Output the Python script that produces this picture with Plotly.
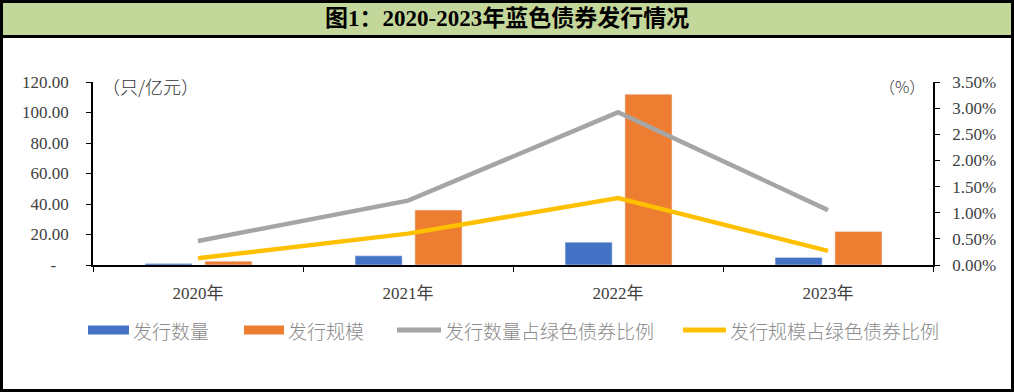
import plotly.graph_objects as go

W, H = 1014, 392

categories = ["2020年", "2021年", "2022年", "2023年"]
issue_count = [1, 6, 15, 5]            # 发行数量 (只)
issue_scale = [2.5, 36, 112, 22]        # 发行规模 (亿元)
count_share = [0.0046, 0.0123, 0.0292, 0.0105]   # 发行数量占绿色债券比例
scale_share = [0.0013, 0.0060, 0.0128, 0.0027]   # 发行规模占绿色债券比例

left_tickvals = [0, 20, 40, 60, 80, 100, 120]
left_ticktext = ["-\u00a0\u00a0\u00a0", "20.00", "40.00", "60.00", "80.00", "100.00", "120.00"]
right_tickvals = [0, 0.005, 0.01, 0.015, 0.02, 0.025, 0.03, 0.035]

names = ["发行数量", "发行规模", "发行数量占绿色债券比例", "发行规模占绿色债券比例"]
colors = ["#4472C4", "#ED7D31", "#A5A5A5", "#FFC000"]

SERIF = "Liberation Serif, Times New Roman, Noto Sans CJK SC, serif"
CJK = "Noto Sans CJK SC, sans-serif"


def px(x):
    return x / W


def py(y):
    return 1 - y / H


fig = go.Figure()
fig.add_trace(go.Bar(x=categories, y=issue_count, name=names[0], marker_color=colors[0],
                     width=0.224, offset=-0.252, yaxis="y", showlegend=False))
fig.add_trace(go.Bar(x=categories, y=issue_scale, name=names[1], marker_color=colors[1],
                     width=0.224, offset=0.033, yaxis="y", showlegend=False))
fig.add_trace(go.Scatter(x=categories, y=count_share, name=names[2], mode="lines",
                         line=dict(color=colors[2], width=4.5), yaxis="y2", showlegend=False))
fig.add_trace(go.Scatter(x=categories, y=scale_share, name=names[3], mode="lines",
                         line=dict(color=colors[3], width=4.5), yaxis="y2", showlegend=False))

shapes = [
    # title bar
    dict(type="rect", xref="paper", yref="paper", x0=0, x1=1, y0=py(36), y1=1,
         fillcolor="#C4D79B", line=dict(width=0), layer="below"),
    dict(type="line", xref="paper", yref="paper", x0=0, x1=1, y0=py(36.5), y1=py(36.5),
         line=dict(color="black", width=3)),
    # outer border
    dict(type="rect", xref="paper", yref="paper", x0=px(1.5), x1=px(W - 1.5), y0=py(H - 1.5), y1=py(1.5),
         line=dict(color="black", width=3)),
]

annotations = [
    dict(text="<b>图1：2020-2023年蓝色债券发行情况</b>", xref="paper", yref="paper",
         x=0.5, y=py(19), xanchor="center", yanchor="middle", showarrow=False,
         font=dict(family=SERIF, size=23, color="black")),
    dict(text="（只/亿元）", xref="paper", yref="paper", x=px(100), y=py(86),
         xanchor="left", yanchor="middle", showarrow=False,
         font=dict(family=CJK, size=18, color="#333333", weight=300)),
    dict(text="（%）", xref="paper", yref="paper", x=px(877), y=py(86),
         xanchor="left", yanchor="middle", showarrow=False,
         font=dict(family=CJK, size=16, color="#333333", weight=300)),
]

# custom legend
legend_y = 330
leg = [(88, 129, "bar"), (244, 284, "bar"), (397, 441, "line"), (683, 726, "line")]
for (x0, x1, kind), name, col in zip(leg, names, colors):
    if kind == "bar":
        shapes.append(dict(type="rect", xref="paper", yref="paper", x0=px(x0), x1=px(x1),
                           y0=py(legend_y + 4.5), y1=py(legend_y - 4.5), fillcolor=col,
                           line=dict(width=0)))
    else:
        shapes.append(dict(type="line", xref="paper", yref="paper", x0=px(x0), x1=px(x1),
                           y0=py(legend_y), y1=py(legend_y), line=dict(color=col, width=5)))
    annotations.append(dict(text=name, xref="paper", yref="paper", x=px(x1 + 2), y=py(legend_y),
                            xanchor="left", yanchor="middle", showarrow=False,
                            font=dict(family=CJK, size=19, color="#8a8a8a", weight=300)))

tick_font = dict(family=SERIF, size=17, color="#404040")

fig.update_layout(
    width=W, height=H, margin=dict(l=0, r=0, t=0, b=0, pad=0), autosize=False,
    paper_bgcolor="white", plot_bgcolor="white",
    showlegend=False, barmode="overlay",
    xaxis=dict(domain=[px(93), px(933)], type="category", range=[-0.5, 3.5], automargin=False,
               showline=True, linecolor="black", linewidth=1.5,
               ticks="outside", ticklen=5, tickcolor="black", tickson="boundaries",
               ticklabelstandoff=12, tickfont=tick_font, showgrid=False),
    yaxis=dict(domain=[py(265), py(82)], range=[0, 120], tickvals=left_tickvals, automargin=False,
               ticktext=left_ticktext, showline=True, linecolor="black", linewidth=1.5,
               ticks="outside", ticklen=5, tickcolor="black", showgrid=False, zeroline=False,
               ticklabelstandoff=14, tickfont=tick_font),
    yaxis2=dict(overlaying="y", side="right", range=[0, 0.035], tickvals=right_tickvals,
                automargin=False,
                tickformat=".2%", showline=True, linecolor="black", linewidth=1.5,
                ticks="outside", ticklen=5, tickcolor="black", showgrid=False, zeroline=False,
                ticklabelstandoff=9, tickfont=tick_font),
    shapes=shapes, annotations=annotations,
)

fig.write_html("out.html", config={"displayModeBar": False},
               post_script="document.body.style.margin='0';document.body.style.overflow='hidden';")
